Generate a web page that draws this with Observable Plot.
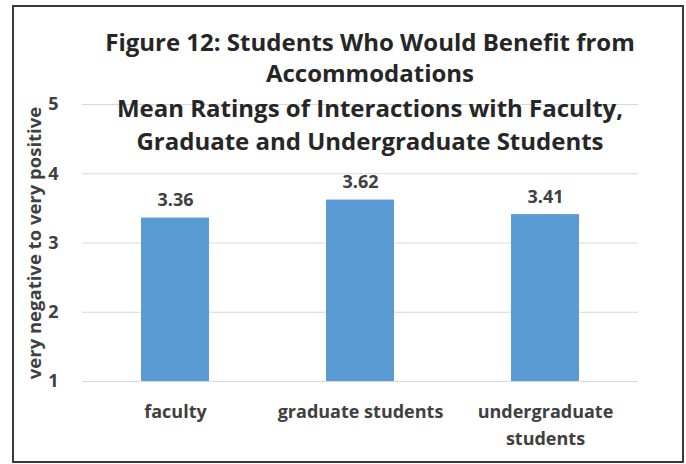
<!DOCTYPE html>
<html>
<head>
<meta charset="utf-8">
<script src="https://cdn.jsdelivr.net/npm/d3@7"></script>
<script src="https://cdn.jsdelivr.net/npm/@observablehq/plot@0.6"></script>
<style>
  html, body { margin: 0; padding: 0; background: #fff; }
  #wrap { position: relative; width: 686px; height: 464px; overflow: hidden; font-family: "Open Sans", sans-serif; }
  #frame { position: absolute; left: 12px; top: 5px; width: 672px; height: 458px; box-sizing: border-box; border: 2px solid #3a3a3a; pointer-events: none; }
  #chart { position: absolute; left: 0; top: 0; }
  .title { position: absolute; left: 0; width: 740px; text-align: center; font-weight: bold; font-size: 24px; color: #262626; white-space: nowrap; line-height: 1; }
</style>
</head>
<body>
<div id="wrap">
  <div id="chart"></div>
  <div class="title" id="t1" style="top:30px">Figure 12: Students Who Would Benefit from</div>
  <div class="title" id="t2" style="top:61px">Accommodations</div>
  <div class="title" id="t3" style="top:96px">Mean Ratings of Interactions with Faculty,</div>
  <div class="title" id="t4" style="top:129px">Graduate and Undergraduate Students</div>
  <div id="frame"></div>
</div>
<script>
const categories = ["faculty", "graduate students", "undergraduate students"];
const values = [3.36, 3.62, 3.41];
const tickLabels = ["faculty", "graduate students", "undergraduate\nstudents"];
const yTicks = [1, 2, 3, 4, 5];
const yLabel = "very negative to very positive";

const data = categories.map((c, i) => ({category: c, value: values[i]}));

const chart = Plot.plot({
  width: 686,
  height: 464,
  marginLeft: 82,
  marginRight: 48,
  marginTop: 104,
  marginBottom: 83,
  style: {fontFamily: "'Open Sans', sans-serif", background: "transparent", color: "#404040"},
  x: {domain: categories, paddingInner: 0.633, paddingOuter: 0.3165},
  y: {domain: [1, 5]},
  marks: [
    Plot.gridY(yTicks, {stroke: "#d9d9d9", strokeOpacity: 1, strokeWidth: 1.2}),
    Plot.barY(data, {x: "category", y1: 1, y2: "value", fill: "#5B9BD5"}),
    Plot.text(data, {x: "category", y: "value", text: d => d.value.toFixed(2), lineAnchor: "bottom", dy: -12, fontSize: 18, fontWeight: "bold", fill: "#404040"}),
    Plot.axisX({tickSize: 0, tickPadding: 17, fontSize: 18, fontWeight: "bold", label: null, lineHeight: 1.5, tickFormat: d => tickLabels[categories.indexOf(d)], fill: "#404040"}),
    Plot.axisY({ticks: yTicks, tickSize: 0, tickPadding: 24, fontSize: 18, fontWeight: "bold", label: null, tickFormat: "d", fill: "#404040"}),
    Plot.axisY({ticks: [], tickSize: 0, label: yLabel, labelAnchor: "center", labelArrow: "none", labelOffset: 55, fontSize: 18.5, fontWeight: "bold", fill: "#404040"})
  ]
});
document.getElementById("chart").appendChild(chart);
</script>
</body>
</html>
